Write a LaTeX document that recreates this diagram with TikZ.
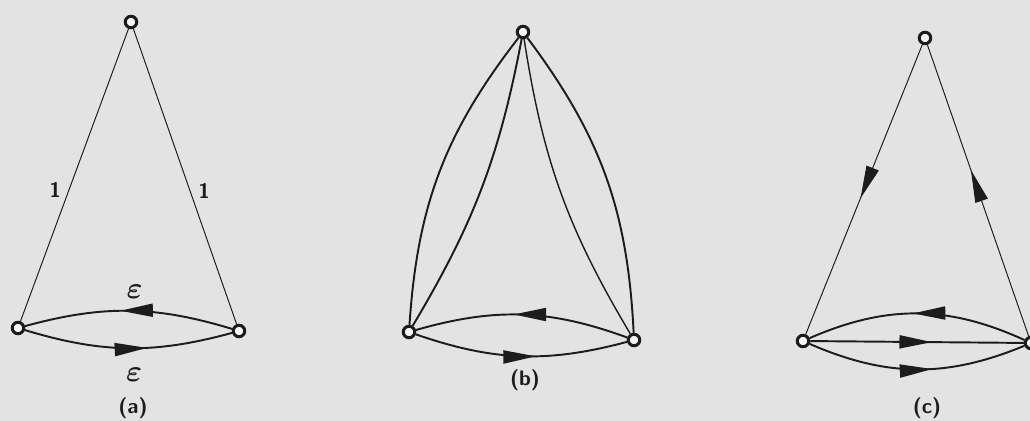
\documentclass[tikz,border=0pt]{standalone}
\usepackage{amsmath}
\usepackage{bm}
\usepackage{tikz}
\usetikzlibrary{arrows.meta,decorations.markings}
\definecolor{paper}{HTML}{E3E3E3}
\definecolor{ink}{HTML}{1C1C1C}

\begin{document}
\begin{tikzpicture}[x=0.02cm, y=-0.02cm,
  vertex/.style={circle, draw=ink, line width=1.7pt, fill=paper!40!white,
                 minimum size=2.3mm, inner sep=0pt},
  side/.style={draw=ink, line width=0.55pt},
  loopline/.style={draw=ink, line width=1.1pt},
  midarrow/.style={postaction={decorate}, decoration={markings,
      mark=at position #1 with {\arrow[ink]{Triangle[length=6.5mm,width=2.6mm]}}}},
  weight/.style={font=\large\sffamily\bfseries, text=ink, inner sep=1pt},
  eps/.style={font=\LARGE, text=ink, inner sep=1pt},
  caption/.style={font=\large\sffamily\bfseries, text=ink},
]
  \fill[paper] (0,0) rectangle (1030,421);
  \useasboundingbox (0,0) rectangle (1030,421);

  % (a) ---------------------------------------------------------------------
  \node[vertex] (atop) at (131,22) {};
  \node[vertex] (aleft) at (18,328) {};
  \node[vertex] (aright) at (239,331) {};
  \draw[side] (atop) -- node[weight, pos=0.55, left=1.2mm] {1} (aleft);
  \draw[side] (atop) -- node[weight, pos=0.55, right=1.2mm] {1} (aright);
  \draw[loopline, midarrow=0.54] (aright) to[bend right=16]
    node[eps, pos=0.47, above=2mm] {$\bm{\varepsilon}$} (aleft);
  \draw[loopline, midarrow=0.59] (aleft) to[bend right=16]
    node[eps, pos=0.53, below=3.5mm] {$\bm{\varepsilon}$} (aright);
  \node[caption] (acap) at (133,408) {(a)};

  % (b) ---------------------------------------------------------------------
  \node[vertex] (btop) at (523,32) {};
  \node[vertex] (bleft) at (409,332) {};
  \node[vertex] (bright) at (634,340) {};
  \draw[loopline] (bleft) to[bend left=17] (btop);
  \draw[loopline] (bleft) to[bend right=10] (btop);
  \draw[side, line width=0.8pt] (btop) to[bend right=11] (bright);
  \draw[loopline] (btop) to[bend left=17] (bright);
  \draw[loopline, midarrow=0.54] (bright) to[bend right=18] (bleft);
  \draw[loopline, midarrow=0.57] (bleft) to[bend right=17] (bright);
  \node[caption] (bcap) at (525,380) {(b)};

  % (c) ---------------------------------------------------------------------
  \node[vertex] (ctop) at (925,38) {};
  \node[vertex] (cleft) at (803,341) {};
  \node[vertex] (cright) at (1031,343) {};
  \draw[side, midarrow=0.53] (ctop) -- (cleft);
  \draw[side, midarrow=0.57] (cright) -- (ctop);
  \draw[loopline, midarrow=0.52] (cright) to[bend right=24] (cleft);
  \draw[loopline, midarrow=0.57] (cleft) -- (cright);
  \draw[loopline, midarrow=0.57] (cleft) to[bend right=23] (cright);
  \node[caption] (ccap) at (927,408) {(c)};
\end{tikzpicture}
\end{document}
